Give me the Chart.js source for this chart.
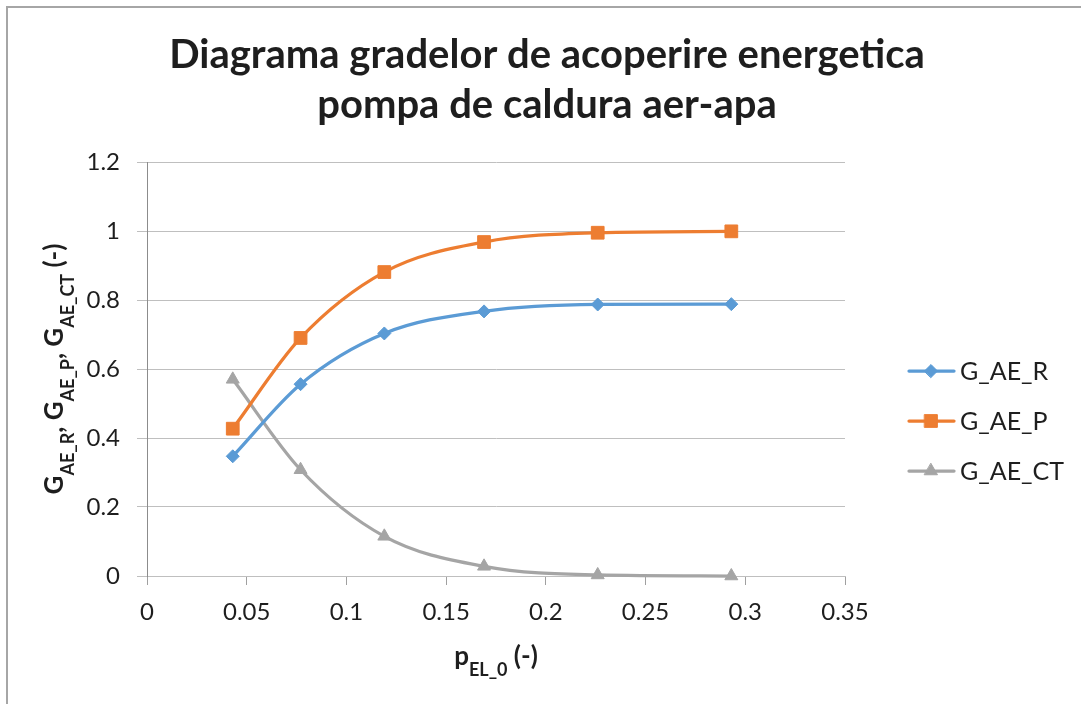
<!DOCTYPE html>
<html>
<head>
<meta charset="utf-8">
<title>Diagrama gradelor de acoperire energetica</title>
<script src="https://cdn.jsdelivr.net/npm/chart.js@4/dist/chart.umd.min.js"></script>
<style>
  html, body { margin: 0; padding: 0; background: #fff; }
  #wrap { width: 1081px; height: 704px; }
</style>
</head>
<body>
<div id="wrap"><canvas id="chart" width="1081" height="704"></canvas></div>
<script>
// p_EL_0 values and the three coverage degrees
const pEl = [0.043, 0.077, 0.119, 0.169, 0.226, 0.293];
const gR = [0.347, 0.556, 0.703, 0.767, 0.787, 0.788];
const gP = [0.427, 0.690, 0.881, 0.968, 0.995, 0.999];
const gCT = [0.570, 0.308, 0.115, 0.028, 0.003, 0.0];

const seriesNames = ['G_AE_R', 'G_AE_P', 'G_AE_CT'];
const seriesValues = [gR, gP, gCT];
const seriesColors = ['#5B9BD5', '#ED7D31', '#A5A5A5'];
const markerStyles = ['rectRot', 'rect', 'triangle'];
const markerSizes = [6.5, 9, 7.5];

const xTicks = [0, 0.05, 0.1, 0.15, 0.2, 0.25, 0.3, 0.35];
const yTicks = [0, 0.2, 0.4, 0.6, 0.8, 1, 1.2];

const titleLines = ['Diagrama gradelor de acoperire energetica', 'pompa de caldura aer-apa'];
// [text, 'm' main | 's' subscript]
const yTitleParts = [['G', 'm'], ['AE_R', 's'], [', ', 'm'], ['G', 'm'], ['AE_P', 's'], [', ', 'm'], ['G', 'm'], ['AE_CT', 's'], [' (-)', 'm']];
const xTitleParts = [['p', 'm'], ['EL_0', 's'], [' (-)', 'm']];

const FONT = 'Lato, "Open Sans", sans-serif';
const MAIN_FONT = 'bold 26px ' + FONT;
const SUB_FONT = 'bold 18px ' + FONT;
const textColor = '#1e1e1e';

function richWidth(ctx, parts) {
    let w = 0;
    parts.forEach(p => {
        ctx.font = p[1] === 's' ? SUB_FONT : MAIN_FONT;
        w += ctx.measureText(p[0]).width;
    });
    return w;
}

function drawRich(ctx, parts, cx, baseY) {
    let x = cx - richWidth(ctx, parts) / 2;
    ctx.textAlign = 'left';
    ctx.textBaseline = 'alphabetic';
    parts.forEach(p => {
        const sub = p[1] === 's';
        ctx.font = sub ? SUB_FONT : MAIN_FONT;
        ctx.fillText(p[0], x, baseY + (sub ? 11 : 0));
        x += ctx.measureText(p[0]).width;
    });
}

function drawMarker(ctx, style, radius, color, x, y) {
    ctx.fillStyle = color;
    ctx.strokeStyle = color;
    ctx.lineWidth = 1;
    if (Chart.helpers && Chart.helpers.drawPoint) {
        Chart.helpers.drawPoint(ctx, { pointStyle: style, radius: radius, rotation: 0, borderWidth: 1 }, x, y);
        return;
    }
    ctx.beginPath();
    ctx.arc(x, y, radius * 0.7, 0, Math.PI * 2);
    ctx.fill();
}

// frame, titles and legend drawn on top of the chart
const decorations = {
    id: 'decorations',
    afterDraw(chart) {
        const ctx = chart.ctx;
        const area = chart.chartArea;
        ctx.save();

        ctx.strokeStyle = '#a6a6a6';
        ctx.lineWidth = 2;
        ctx.strokeRect(7, 7, 1200, 1200);

        ctx.fillStyle = textColor;
        ctx.font = 'bold 40px ' + FONT;
        ctx.textAlign = 'center';
        ctx.textBaseline = 'alphabetic';
        titleLines.forEach((line, i) => ctx.fillText(line, 547, 68 + i * 50));

        drawRich(ctx, xTitleParts, (area.left + area.right) / 2, 665);

        ctx.save();
        ctx.translate(63, (area.top + area.bottom) / 2);
        ctx.rotate(-Math.PI / 2);
        drawRich(ctx, yTitleParts, 0, 0);
        ctx.restore();

        seriesNames.forEach((name, i) => {
            const y = 371 + i * 50;
            ctx.strokeStyle = seriesColors[i];
            ctx.lineWidth = 3.25;
            ctx.lineCap = 'round';
            ctx.beginPath();
            ctx.moveTo(909, y);
            ctx.lineTo(954, y);
            ctx.stroke();
            drawMarker(ctx, markerStyles[i], markerSizes[i], seriesColors[i], 931, y);
            ctx.fillStyle = textColor;
            ctx.font = '25px ' + FONT;
            ctx.textAlign = 'left';
            ctx.textBaseline = 'middle';
            ctx.fillText(name, 960, y + 1);
        });

        ctx.restore();
    }
};

const datasets = seriesNames.map((name, i) => ({
    label: name,
    data: pEl.map((x, j) => ({ x: x, y: seriesValues[i][j] })),
    borderColor: seriesColors[i],
    backgroundColor: seriesColors[i],
    borderWidth: 3.25,
    cubicInterpolationMode: 'monotone',
    pointStyle: markerStyles[i],
    pointRadius: markerSizes[i],
    pointHoverRadius: markerSizes[i],
    pointBackgroundColor: seriesColors[i],
    pointBorderColor: seriesColors[i],
    pointBorderWidth: 1,
    clip: false
}));

new Chart(document.getElementById('chart'), {
    type: 'line',
    data: { datasets: datasets },
    options: {
        responsive: false,
        devicePixelRatio: 1,
        animation: false,
        layout: { padding: { top: 162, right: 236, left: 0, bottom: 0 } },
        plugins: {
            legend: { display: false },
            title: { display: false },
            tooltip: { enabled: false }
        },
        scales: {
            x: {
                type: 'linear',
                min: 0,
                max: 0.35,
                afterFit: axis => { axis.height = 128; },
                afterBuildTicks: axis => { axis.ticks = xTicks.map(v => ({ value: v })); },
                grid: { drawOnChartArea: false, drawTicks: true, tickLength: 9, color: '#a0a0a0', lineWidth: 1 },
                border: { color: '#bfbfbf', width: 1 },
                ticks: {
                    padding: 13,
                    color: textColor,
                    font: { family: FONT, size: 24 },
                    maxRotation: 0,
                    callback: v => String(v)
                }
            },
            y: {
                type: 'linear',
                min: 0,
                max: 1.2,
                afterFit: axis => { axis.width = 147; },
                afterBuildTicks: axis => { axis.ticks = yTicks.map(v => ({ value: v })); },
                grid: { color: '#bfbfbf', lineWidth: 1, drawTicks: true, tickLength: 10 },
                border: { color: '#8c8c8c', width: 1 },
                ticks: {
                    padding: 17,
                    color: textColor,
                    font: { family: FONT, size: 24 },
                    callback: v => String(v)
                }
            }
        }
    },
    plugins: [decorations]
});
</script>
</body>
</html>
